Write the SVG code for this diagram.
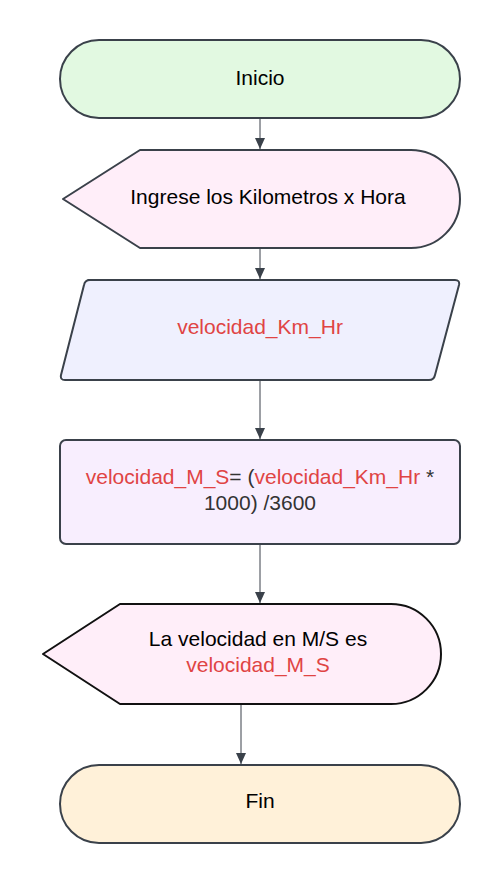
<svg xmlns="http://www.w3.org/2000/svg" width="500" height="884" viewBox="0 0 500 884">
<style>
.s{stroke:#3a414a;stroke-width:2;stroke-linejoin:round}
.t{font-family:"Liberation Sans",Arial,sans-serif;font-size:21px;text-anchor:middle;fill:#000}
.r{fill:#e04444}
.g{fill:#333}
.c{stroke:#3a414a;stroke-width:1;fill:none}
</style>
<defs>
<marker id="ah" markerWidth="12" markerHeight="12" refX="11" refY="6" orient="auto" markerUnits="userSpaceOnUse">
<path d="M0,1 L11,6 L0,11 Z" fill="#3a414a"/>
</marker>
</defs>
<rect width="500" height="884" fill="#fff"/>
<g id="connectors">
<line class="c" x1="260" y1="119" x2="260" y2="149" marker-end="url(#ah)"/>
<line class="c" x1="260" y1="249" x2="260" y2="279" marker-end="url(#ah)"/>
<line class="c" x1="260" y1="381" x2="260" y2="439" marker-end="url(#ah)"/>
<line class="c" x1="260" y1="545" x2="260" y2="603" marker-end="url(#ah)"/>
<line class="c" x1="241" y1="705" x2="241" y2="764" marker-end="url(#ah)"/>
</g>
<g id="inicio">
<rect class="s" x="60" y="40" width="400" height="78" rx="39" fill="#e2f9e1"/>
<text class="t" x="260" y="85">Inicio</text>
</g>
<g id="ingrese">
<path class="s" d="M140,150 L411,150 A49,49 0 0 1 411,248 L140,248 L63,199 Z" fill="#ffeef9"/>
<text class="t" x="268" y="204">Ingrese los Kilometros x Hora</text>
</g>
<g id="entrada">
<path class="s" d="M88,280 L455,280 Q460,280 459,285 L435,375 Q434,380 429,380 L65,380 Q60,380 61,375 L84,285 Q85,280 90,280 Z" fill="#eff0fe"/>
<text class="t r" x="260" y="334">velocidad_Km_Hr</text>
</g>
<g id="proceso">
<rect class="s" x="60" y="440" width="400" height="104" rx="6" fill="#f8eefe"/>
<text class="t" x="260" y="484"><tspan class="r">velocidad_M_S</tspan><tspan class="g">= (</tspan><tspan class="r">velocidad_Km_Hr</tspan><tspan class="g"> *</tspan></text>
<text class="t g" x="260" y="510">1000) /3600</text>
</g>
<g id="salida">
<path class="s" d="M120,604 L391,604 A50,50 0 0 1 391,704 L120,704 L43,654 Z" fill="#ffeef9" style="stroke:#111"/>
<text class="t" x="258" y="646">La velocidad en M/S es</text>
<text class="t r" x="258" y="672">velocidad_M_S</text>
</g>
<g id="fin">
<rect class="s" x="60" y="765" width="400" height="78" rx="39" fill="#fff1d9"/>
<text class="t" x="260" y="808">Fin</text>
</g>
</svg>
